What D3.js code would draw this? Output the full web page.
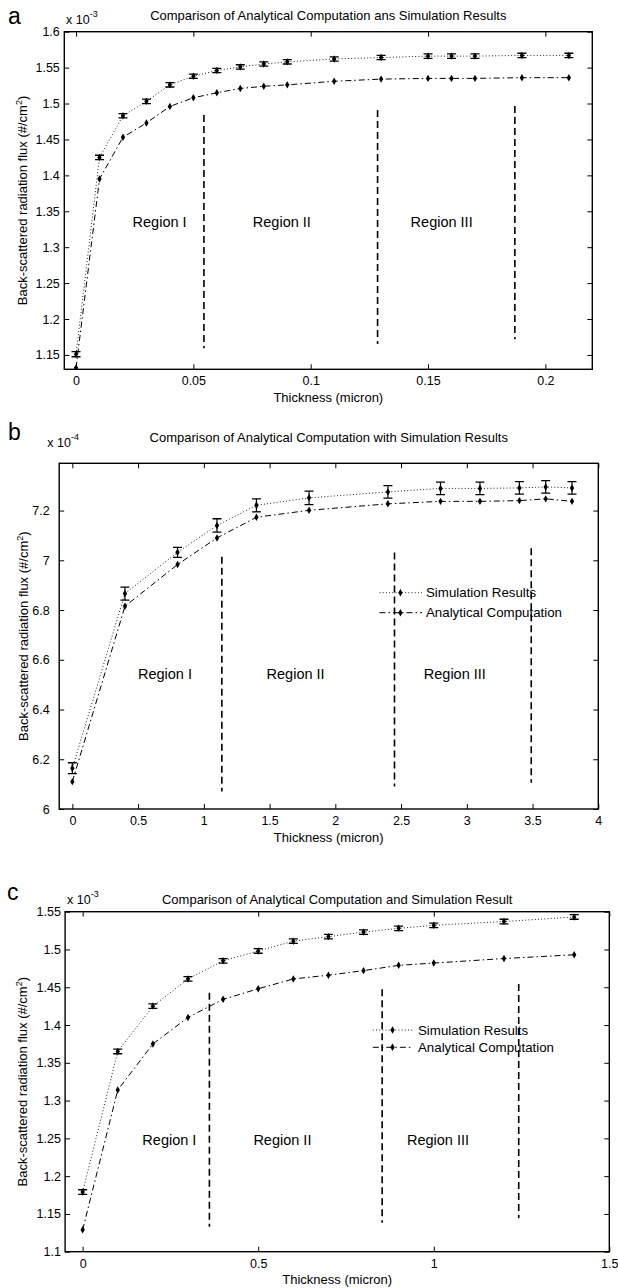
<!DOCTYPE html>
<html><head><meta charset="utf-8">
<script src="https://cdn.jsdelivr.net/npm/d3@7"></script>
<style>
body{margin:0;background:#fff}
svg{display:block;background:#fff}
text{font-family:"Liberation Sans",Arial,Helvetica,sans-serif;fill:#000}
</style>
</head><body>
<svg id="fig" width="618" height="1288"></svg>
<script>
// ---------- Panel a data ----------
const aX      = [0,0.01,0.02,0.03,0.04,0.05,0.06,0.07,0.08,0.09,0.11,0.13,0.15,0.16,0.17,0.19,0.21];
const aSim    = [1.151,1.425,1.483,1.503,1.526,1.538,1.546,1.551,1.555,1.558,1.562,1.564,1.566,1.566,1.566,1.567,1.567];
const aSimErr = [0.0035,0.003,0.003,0.003,0.003,0.003,0.003,0.003,0.003,0.003,0.003,0.003,0.003,0.003,0.003,0.003,0.003];
const aAna    = [1.132,1.395,1.453,1.473,1.496,1.508,1.515,1.521,1.524,1.526,1.531,1.534,1.535,1.535,1.535,1.536,1.536];
const aXTicks = [0,0.05,0.1,0.15,0.2];
const aXTickLabels = ["0","0.05","0.1","0.15","0.2"];
const aYTicks = [1.15,1.2,1.25,1.3,1.35,1.4,1.45,1.5,1.55,1.6];
const aYTickLabels = ["1.15","1.2","1.25","1.3","1.35","1.4","1.45","1.5","1.55","1.6"];
const aRegionX = [0.0545,0.1285,0.187];
const aRegionTop = [1.484,1.491,1.4966];
const aRegionBottom = [1.1593,1.1653,1.1718];
const aRegionLabelX = [0.0356,0.0877,0.1558];
const aRegionLabelY = [1.336,1.336,1.336];

// ---------- Panel b data ----------
const bX      = [0,0.4,0.8,1.1,1.4,1.8,2.4,2.8,3.1,3.4,3.6,3.8];
const bSim    = [6.164,6.866,7.032,7.140,7.221,7.251,7.275,7.289,7.289,7.291,7.295,7.291];
const bSimErr = [0.022,0.026,0.020,0.027,0.026,0.027,0.025,0.025,0.025,0.025,0.025,0.025];
const bAna    = [6.110,6.815,6.983,7.090,7.173,7.201,7.227,7.237,7.237,7.240,7.247,7.237];
const bXTicks = [0,0.5,1,1.5,2,2.5,3,3.5,4];
const bXTickLabels = ["0","0.5","1","1.5","2","2.5","3","3.5","4"];
const bYTicks = [6,6.2,6.4,6.6,6.8,7,7.2];
const bYTickLabels = ["6","6.2","6.4","6.6","6.8","7","7.2"];
const bRegionX = [1.137,2.45,3.49];
const bRegionTop = [7.014,7.031,7.048];
const bRegionBottom = [6.070,6.090,6.106];
const bRegionLabelX = [0.704,1.698,2.909];
const bRegionLabelY = [6.544,6.544,6.544];

// ---------- Panel c data ----------
const cX      = [0,0.1,0.2,0.3,0.4,0.5,0.6,0.7,0.8,0.9,1.0,1.2,1.4];
const cSim    = [1.179,1.365,1.425,1.461,1.485,1.498,1.511,1.517,1.523,1.528,1.532,1.537,1.543];
const cSimErr = [0.003,0.003,0.003,0.003,0.003,0.003,0.003,0.003,0.003,0.003,0.003,0.003,0.003];
const cAna    = [1.129,1.314,1.375,1.410,1.434,1.448,1.461,1.466,1.472,1.479,1.482,1.488,1.493];
const cXTicks = [0,0.5,1,1.5];
const cXTickLabels = ["0","0.5","1","1.5"];
const cYTicks = [1.1,1.15,1.2,1.25,1.3,1.35,1.4,1.45,1.5,1.55];
const cYTickLabels = ["1.1","1.15","1.2","1.25","1.3","1.35","1.4","1.45","1.5","1.55"];
const cRegionX = [0.361,0.853,1.242];
const cRegionTop = [1.4428,1.4473,1.4543];
const cRegionBottom = [1.1331,1.1384,1.1442];
const cRegionLabelX = [0.247,0.569,1.012];
const cRegionLabelY = [1.248,1.248,1.248];

const regionNames = ["Region I","Region II","Region III"];
const seriesNames = ["Simulation Results","Analytical Computation"];
const xLabel = "Thickness (micron)";
const yLabelMain = "Back-scattered radiation flux (#/cm";

const panels = [
  {letter:"a", title:"Comparison of Analytical Computation ans Simulation Results", exp:"-3",
   x:aX, sim:aSim, err:aSimErr, ana:aAna, xTicks:aXTicks, xTickLabels:aXTickLabels,
   yTicks:aYTicks, yTickLabels:aYTickLabels, rX:aRegionX, rTop:aRegionTop, rBot:aRegionBottom,
   rLX:aRegionLabelX, rLY:aRegionLabelY,
   xDomain:[-0.005,0.22], yDomain:[1.13,1.6],
   left:64.3, right:592.3, top:31.7, bottom:369.3,
   letterPos:[8,24], titleY:20, expPos:[66,23.5], yPad:4.5, yLabelX:26.5, legend:null},
  {letter:"b", title:"Comparison of Analytical Computation with Simulation Results", exp:"-4",
   x:bX, sim:bSim, err:bSimErr, ana:bAna, xTicks:bXTicks, xTickLabels:bXTickLabels,
   yTicks:bYTicks, yTickLabels:bYTickLabels, rX:bRegionX, rTop:bRegionTop, rBot:bRegionBottom,
   rLX:bRegionLabelX, rLY:bRegionLabelY,
   xDomain:[-0.1,4], yDomain:[6,7.39],
   left:59.2, right:598.3, top:463.3, bottom:809,
   letterPos:[8,440], titleY:441.5, expPos:[47.3,446.5], yPad:9.5, yLabelX:27.5,
   legend:{x0:379.5, x1:422, mx:400.4, tx:426, y:[592.7,612.7]}},
  {letter:"c", title:"Comparison of Analytical Computation and Simulation Result", exp:"-3",
   x:cX, sim:cSim, err:cSimErr, ana:cAna, xTicks:cXTicks, xTickLabels:cXTickLabels,
   yTicks:cYTicks, yTickLabels:cYTickLabels, rX:cRegionX, rTop:cRegionTop, rBot:cRegionBottom,
   rLX:cRegionLabelX, rLY:cRegionLabelY,
   xDomain:[-0.05,1.5], yDomain:[1.1,1.55],
   left:65.1, right:609.3, top:911.7, bottom:1251.7,
   letterPos:[7,900], titleY:903.5, expPos:[67,904], yPad:4.2, yLabelX:26.5,
   legend:{x0:372.8, x1:412.2, mx:392.5, tx:418, y:[1030,1047.3]}}
];

const svg = d3.select("#fig");
svg.append("rect").attr("width",618).attr("height",1288).attr("fill","#fff");
const diamond = d3.symbol().type(d3.symbolDiamond).size(16);
const SIM_DASH = "1,2.2", ANA_DASH = "6,3,1.5,3";

panels.forEach((p, pi) => {
  const g = svg.append("g");
  const x = d3.scaleLinear().domain(p.xDomain).range([p.left, p.right]);
  const y = d3.scaleLinear().domain(p.yDomain).range([p.bottom, p.top]);
  const clipId = "clip" + pi;
  g.append("clipPath").attr("id", clipId).append("rect")
    .attr("x", p.left).attr("y", p.top).attr("width", p.right - p.left).attr("height", p.bottom - p.top);

  // axes (ticks inward on all four sides)
  const fmtX = (d,i) => p.xTickLabels[i];
  const fmtY = (d,i) => p.yTickLabels[i];
  const ax = g.append("g").attr("transform",`translate(0,${p.bottom})`)
    .call(d3.axisBottom(x).tickValues(p.xTicks).tickFormat(fmtX).tickSizeInner(-5).tickSizeOuter(0).tickPadding(7));
  const ay = g.append("g").attr("transform",`translate(${p.left},0)`)
    .call(d3.axisLeft(y).tickValues(p.yTicks).tickFormat(fmtY).tickSizeInner(-5).tickSizeOuter(0).tickPadding(p.yPad));
  g.append("g").attr("transform",`translate(0,${p.top})`)
    .call(d3.axisTop(x).tickValues(p.xTicks).tickFormat("").tickSizeInner(-5).tickSizeOuter(0));
  g.append("g").attr("transform",`translate(${p.right},0)`)
    .call(d3.axisRight(y).tickValues(p.yTicks).tickFormat("").tickSizeInner(-5).tickSizeOuter(0));
  g.selectAll(".domain").remove();
  g.selectAll(".tick line").attr("stroke","#000").attr("stroke-width",1);
  g.selectAll(".tick text").attr("font-size","12.5px").attr("font-family",'"Liberation Sans",Arial,sans-serif').attr("fill","#000");

  // box
  g.append("rect").attr("x",p.left).attr("y",p.top).attr("width",p.right-p.left).attr("height",p.bottom-p.top)
    .attr("fill","none").attr("stroke","#000").attr("stroke-width",1.4);

  // region dashed lines
  g.selectAll(".reg").data(p.rX).join("line")
    .attr("x1",d=>x(d)).attr("x2",d=>x(d))
    .attr("y1",(d,i)=>y(p.rTop[i])).attr("y2",(d,i)=>y(p.rBot[i]))
    .attr("stroke","#000").attr("stroke-width",1.6).attr("stroke-dasharray","7,4");

  // region labels
  g.selectAll(".rlab").data(regionNames).join("text")
    .attr("x",(d,i)=>x(p.rLX[i])).attr("y",(d,i)=>y(p.rLY[i])).attr("dy","0.36em")
    .attr("text-anchor","middle").attr("font-size","14.5px").text(d=>d);

  const plot = g.append("g").attr("clip-path",`url(#${clipId})`);
  const simData = p.x.map((v,i)=>({x:v, y:p.sim[i], e:p.err[i]}));
  const anaData = p.x.map((v,i)=>({x:v, y:p.ana[i]}));
  const line = d3.line().x(d=>x(d.x)).y(d=>y(d.y));

  // simulation dotted line
  plot.append("path").datum(simData).attr("d",line).attr("fill","none")
    .attr("stroke","#222").attr("stroke-width",1).attr("stroke-dasharray",SIM_DASH);
  // analytical dash-dot line
  plot.append("path").datum(anaData).attr("d",line).attr("fill","none")
    .attr("stroke","#000").attr("stroke-width",1).attr("stroke-dasharray",ANA_DASH);

  // error bars
  const eb = plot.selectAll(".eb").data(simData).join("g");
  eb.append("line").attr("x1",d=>x(d.x)).attr("x2",d=>x(d.x))
    .attr("y1",d=>y(d.y-d.e)).attr("y2",d=>y(d.y+d.e)).attr("stroke","#000").attr("stroke-width",1.2);
  eb.append("line").attr("x1",d=>x(d.x)-4.5).attr("x2",d=>x(d.x)+4.5)
    .attr("y1",d=>y(d.y-d.e)).attr("y2",d=>y(d.y-d.e)).attr("stroke","#000").attr("stroke-width",1.3);
  eb.append("line").attr("x1",d=>x(d.x)-4.5).attr("x2",d=>x(d.x)+4.5)
    .attr("y1",d=>y(d.y+d.e)).attr("y2",d=>y(d.y+d.e)).attr("stroke","#000").attr("stroke-width",1.3);

  // markers
  plot.selectAll(".ms").data(simData).join("path")
    .attr("transform",d=>`translate(${x(d.x)},${y(d.y)})`).attr("d",diamond).attr("fill","#000");
  plot.selectAll(".ma").data(anaData).join("path")
    .attr("transform",d=>`translate(${x(d.x)},${y(d.y)})`).attr("d",diamond).attr("fill","#000");

  // panel letter
  g.append("text").attr("x",p.letterPos[0]).attr("y",p.letterPos[1]).attr("font-size","23px").text(p.letter);

  // title
  g.append("text").attr("x",(p.left+p.right)/2).attr("y",p.titleY).attr("text-anchor","middle")
    .attr("font-size","13px").text(p.title);

  // exponent label
  const et = g.append("text").attr("x",p.expPos[0]).attr("y",p.expPos[1]).attr("font-size","12.5px");
  et.append("tspan").text("x 10");
  et.append("tspan").attr("dy",-7).attr("font-size","9px").text(p.exp);

  // x label
  g.append("text").attr("x",(p.left+p.right)/2).attr("y",p.bottom+32.5).attr("text-anchor","middle")
    .attr("font-size","13px").text(xLabel);

  // y label
  const yt = g.append("text").attr("transform",`translate(${p.yLabelX},${(p.top+p.bottom)/2}) rotate(-90)`)
    .attr("text-anchor","middle").attr("font-size","13px");
  yt.append("tspan").text(yLabelMain);
  yt.append("tspan").attr("dy",-5).attr("font-size","9px").text("2");
  yt.append("tspan").attr("dy",5).text(")");

  // legend
  if (p.legend) {
    const L = p.legend;
    const dashes = [SIM_DASH, ANA_DASH];
    seriesNames.forEach((name, k) => {
      const ly = L.y[k];
      g.append("line").attr("x1",L.x0).attr("x2",L.x1).attr("y1",ly).attr("y2",ly)
        .attr("stroke", k===0 ? "#222" : "#000").attr("stroke-width",1).attr("stroke-dasharray",dashes[k]);
      g.append("path").attr("transform",`translate(${L.mx},${ly})`).attr("d",diamond).attr("fill","#000");
      g.append("text").attr("x",L.tx).attr("y",ly).attr("dy","0.36em").attr("font-size","13.3px").text(name);
    });
  }
});
</script>
</body></html>
